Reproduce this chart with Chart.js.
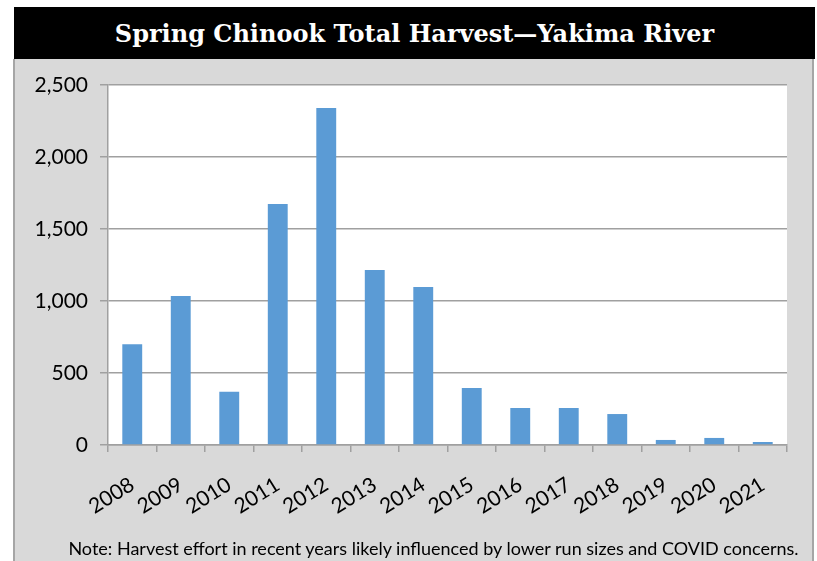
<!DOCTYPE html>
<html>
<head>
<meta charset="utf-8">
<script src="https://cdn.jsdelivr.net/npm/chart.js@4"></script>
<style>
    html, body { margin: 0; padding: 0; background: #ffffff; }
    #wrap { position: relative; width: 817px; height: 561px; overflow: hidden; }
    .title-bar {
        position: absolute; left: 14px; top: 7px; width: 801px; height: 52px;
        background: #000000; color: #ffffff;
        font-family: "DejaVu Serif", serif; font-weight: bold; font-size: 24px;
        display: flex; align-items: center; justify-content: center;
    }
    .panel {
        position: absolute; left: 13px; top: 59px; width: 797px; height: 510px;
        background: #d9d9d9; border-left: 2px solid #a6a6a6; border-right: 2px solid #a6a6a6;
    }
    .note {
        position: absolute; left: 0; width: 867px; top: 537px; text-align: center;
        font-family: Lato, sans-serif; font-size: 18px; color: #000000;
    }
    canvas { position: absolute; left: 0; top: 0; }
</style>
</head>
<body>
<div id="wrap">
    <div class="panel"></div>
    <div class="title-bar">Spring Chinook Total Harvest—Yakima River</div>
    <canvas id="harvest" width="817" height="561"></canvas>
    <div class="note">Note: Harvest effort in recent years likely influenced by lower run sizes and COVID concerns.</div>
</div>
<script>
const years = ['2008', '2009', '2010', '2011', '2012', '2013', '2014',
    '2015', '2016', '2017', '2018', '2019', '2020', '2021'];
const harvest = [700, 1035, 370, 1674, 2340, 1215, 1097, 396, 257, 257, 215, 35, 49, 21];
const yTicks = [0, 500, 1000, 1500, 2000, 2500];

// white plot area behind the bars
const plotBackground = {
    id: 'plotBackground',
    beforeDraw(chart) {
        const { ctx, chartArea } = chart;
        ctx.save();
        ctx.fillStyle = '#ffffff';
        ctx.fillRect(chartArea.left, chartArea.top, chartArea.right - chartArea.left, chartArea.bottom - chartArea.top);
        ctx.restore();
    },
};

const harvestCtx = document.getElementById('harvest').getContext('2d');

new Chart(harvestCtx, {
    type: 'bar',
    data: {
        labels: years,
        datasets: [{
            data: harvest,
            backgroundColor: '#5b9bd5',
            borderWidth: 0,
            barPercentage: 0.41,
            categoryPercentage: 1,
        }],
    },
    options: {
        responsive: false,
        animation: false,
        layout: {
            padding: { top: 85, right: 30, bottom: 0, left: 0 },
        },
        plugins: {
            legend: { display: false },
            tooltip: { enabled: false },
        },
        scales: {
            x: {
                afterFit: (scale) => { scale.height = 116; },
                grid: {
                    drawOnChartArea: false,
                    tickLength: 7,
                    color: '#a0a0a0',
                    lineWidth: 1.5,
                },
                border: { display: true, color: '#a0a0a0', width: 1.5 },
                ticks: {
                    autoSkip: false,
                    minRotation: 32,
                    maxRotation: 32,
                    padding: 20,
                    color: '#000000',
                    font: { family: 'Lato', size: 21 },
                },
            },
            y: {
                min: 0,
                max: 2500,
                afterFit: (scale) => { scale.width = 108; },
                afterBuildTicks: (scale) => { scale.ticks = yTicks.map(v => ({ value: v })); },
                grid: {
                    color: '#a0a0a0',
                    lineWidth: 1.5,
                    tickLength: 8,
                },
                border: { display: true, color: '#a0a0a0', width: 1.5 },
                ticks: {
                    padding: 12,
                    color: '#000000',
                    font: { family: 'Lato', size: 21 },
                    callback: (v) => Number(v).toLocaleString('en-US'),
                },
            },
        },
    },
    plugins: [plotBackground],
});
</script>
</body>
</html>
